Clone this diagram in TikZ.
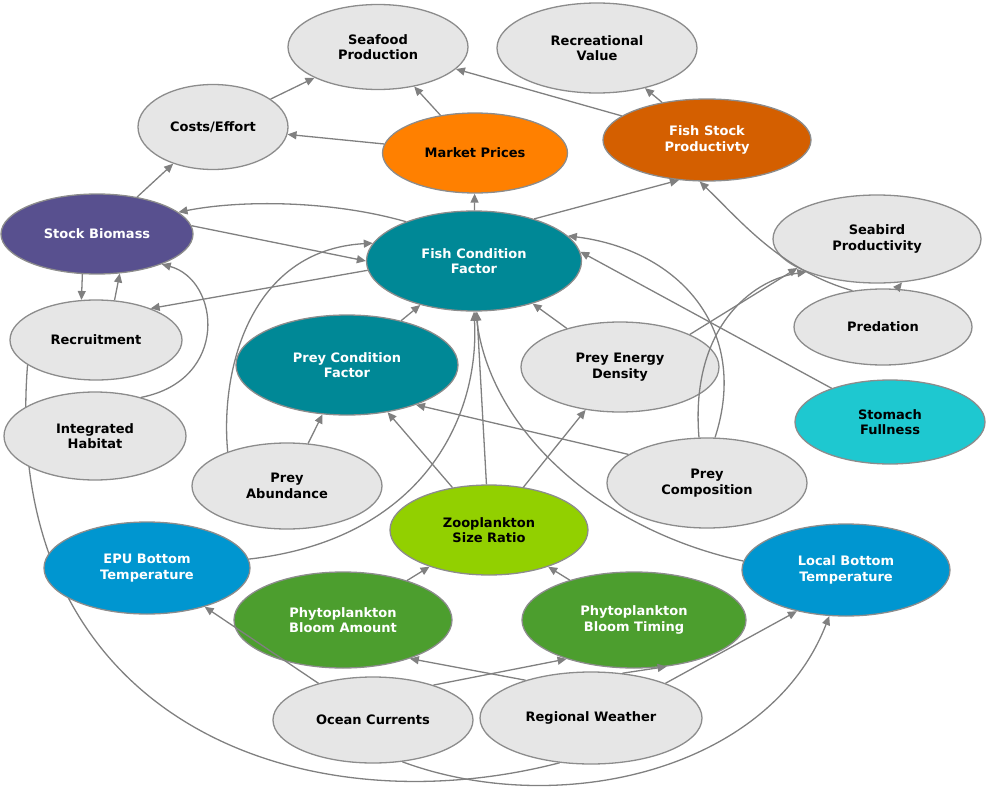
\documentclass[tikz,border=0pt]{standalone}
\usepackage{fontspec}
\setmainfont{DejaVu Sans}
\usetikzlibrary{shapes.geometric,arrows.meta}
\pgfdeclarelayer{bg}\pgfsetlayers{bg,main}
\definecolor{lg}{HTML}{E6E6E6}
\definecolor{bd}{HTML}{8C8C8C}
\definecolor{ln}{HTML}{808080}
\definecolor{teal}{HTML}{008896}
\definecolor{org}{HTML}{FF8000}
\definecolor{dorg}{HTML}{D45F00}
\definecolor{purp}{HTML}{58508F}
\definecolor{cyn}{HTML}{1EC8D0}
\definecolor{lime}{HTML}{92D000}
\definecolor{blu}{HTML}{0096D0}
\definecolor{grn}{HTML}{4C9E2E}
\begin{document}
\begin{tikzpicture}[x=1pt,y=-1pt,
 nd/.style={ellipse,draw=bd,line width=1.3pt,fill=lg,inner sep=0pt,align=center,
   font=\fontsize{13}{15.5}\selectfont\bfseries},
 dk/.style={nd,fill=#1,text=white},
 ar/.style={draw=ln,line width=1.3pt,-{Triangle[length=9pt,width=8pt]}},
 pl/.style={draw=ln,line width=1.3pt}]
\useasboundingbox (0,0) rectangle (988,792);
\node[nd,minimum width=180,minimum height=85] (sea) at (378,47) {Seafood\\Production};
\node[nd,minimum width=200,minimum height=90] (rec) at (597,48) {Recreational\\Value};
\node[nd,minimum width=150,minimum height=85] (ce) at (213,127) {Costs/Effort};
\node[nd,fill=org,minimum width=185,minimum height=80] (mp) at (475,153) {Market Prices};
\node[dk=dorg,minimum width=208,minimum height=82] (fsp) at (707,140) {Fish Stock\\Productivty};
\node[dk=purp,minimum width=192,minimum height=80] (sb) at (97,234) {Stock Biomass};
\node[dk=teal,minimum width=215,minimum height=100] (fcf) at (474,261) {Fish Condition\\Factor};
\node[nd,minimum width=208,minimum height=88] (sp) at (877,239) {Seabird\\Productivity};
\node[nd,minimum width=172,minimum height=80] (rc) at (96,340) {Recruitment};
\node[dk=teal,minimum width=222,minimum height=100] (pcf) at (347,365) {Prey Condition\\Factor};
\node[nd,minimum width=198,minimum height=90] (ped) at (620,367) {Prey Energy\\Density};
\node[nd,minimum width=178,minimum height=76] (pred) at (883,327) {Predation};
\node[nd,minimum width=182,minimum height=88] (ih) at (95,436) {Integrated\\Habitat};
\node[nd,fill=cyn,minimum width=190,minimum height=84] (sf) at (890,422) {Stomach\\Fullness};
\node[nd,minimum width=190,minimum height=86] (pa) at (287,486) {Prey\\Abundance};
\node[nd,minimum width=200,minimum height=90] (pc) at (707,483) {Prey\\Composition};
\node[nd,fill=lime,minimum width=198,minimum height=90] (zsr) at (489,530) {Zooplankton\\Size Ratio};
\node[dk=blu,minimum width=206,minimum height=92] (epu) at (147,568) {EPU Bottom\\Temperature};
\node[dk=blu,minimum width=208,minimum height=92] (lbt) at (846,570) {Local Bottom\\Temperature};
\node[dk=grn,minimum width=218,minimum height=96] (pba) at (343,620) {Phytoplankton\\Bloom Amount};
\node[dk=grn,minimum width=224,minimum height=96] (pbt) at (634,620) {Phytoplankton\\Bloom Timing};
\node[nd,minimum width=200,minimum height=86] (oc) at (373,720) {Ocean Currents};
\node[nd,minimum width=222,minimum height=92] (rw) at (591,718) {Regional Weather};
\begin{pgfonlayer}{bg}
\draw[pl] (rw.235) .. controls (300,830) and (0,720) .. (rc.200);
\end{pgfonlayer}
\draw[ar] (ce) -- (sea);
\draw[ar] (mp) -- (sea);
\draw[ar] (mp) -- (ce);
\draw[ar] (fsp) -- (sea);
\draw[ar] (fsp) -- (rec);
\draw[ar] (sb) -- (ce);
\draw[ar] (fcf) -- (mp);
\draw[ar] (fcf.35) -- (fsp.235);
\draw[ar] (fcf.150) .. controls (330,200) and (240,200) .. (sb.15);
\draw[ar] (sb.5) -- (fcf.180);
\draw[ar] (fcf.185) -- (rc.30);
\draw[ar] (rc.65) -- (sb.-60);
\draw[ar] (sb.-110) -- (rc.110);
\draw[ar] (ih.40) .. controls (230,380) and (220,280) .. (sb.-25);
\draw[ar] (pa.150) .. controls (220,370) and (250,250) .. (fcf.170);
\draw[ar] (pa) -- (pcf);
\draw[ar] (pcf) -- (fcf);
\draw[ar] (zsr) -- (pcf);
\draw[ar] (zsr) -- (fcf);
\draw[ar] (zsr) -- (ped);
\draw[ar] (ped) -- (fcf);
\draw[ar] (ped.25) -- (sp.200);
\draw[ar] (pc.100) .. controls (690,330) and (750,280) .. (sp.205);
\draw[ar] (pc.80) .. controls (750,330) and (680,250) .. (fcf.15);
\draw[ar] (pc.160) -- (pcf.-30);
\draw[ar] (pred.130) .. controls (780,270) and (740,220) .. (fsp.-100);
\draw[ar] (pred.70) -- (sp.-60);
\draw[ar] (sf.150) -- (fcf.5);
\draw[ar] (lbt.175) .. controls (600,530) and (490,430) .. (fcf.-88);
\draw[ar] (epu.5) .. controls (420,540) and (480,420) .. (fcf.-90);
\draw[ar] (pba) -- (zsr);
\draw[ar] (pbt) -- (zsr);
\draw[ar] (oc) -- (epu);
\draw[ar] (oc.30) -- (pbt.210);
\draw[ar] (rw.150) -- (pba.-30);
\draw[ar] (rw.55) -- (pbt.-55);
\draw[ar] (rw.25) -- (lbt.220);
\draw[ar] (oc.-55) .. controls (560,820) and (770,770) .. (lbt.-110);
\end{tikzpicture}
\end{document}
